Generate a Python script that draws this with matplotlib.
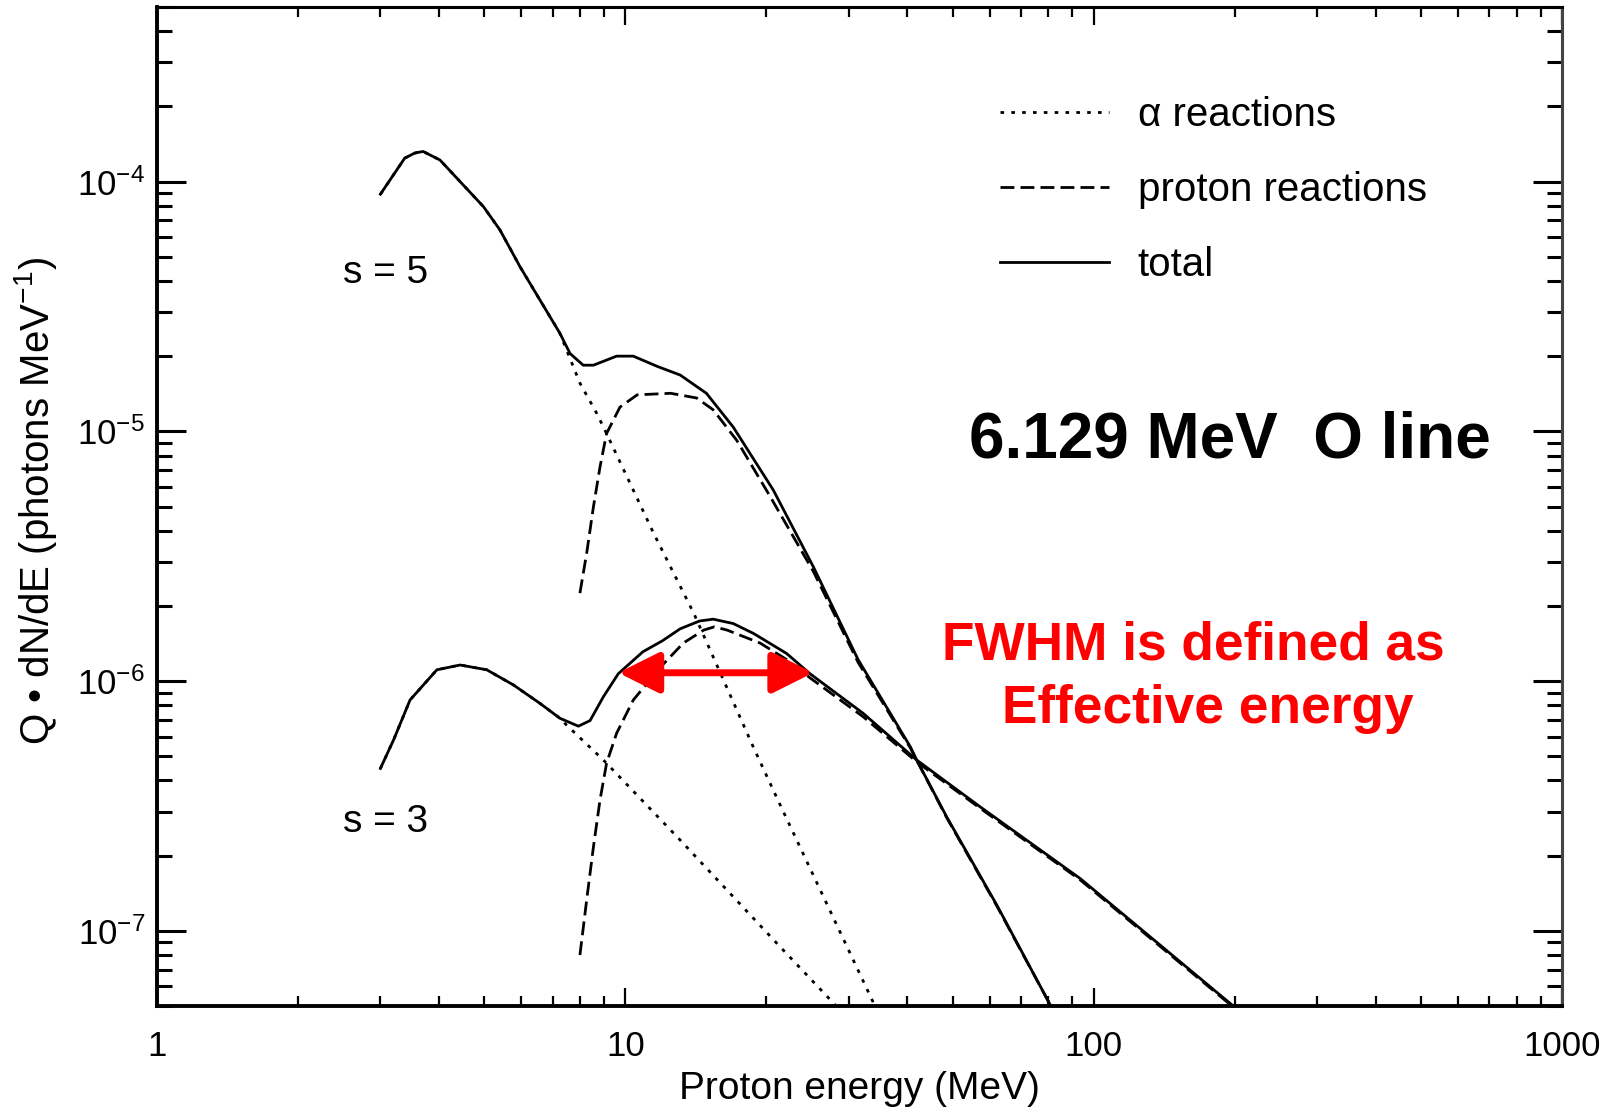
"""Gamma-ray line yield (6.129 MeV O line) vs proton energy, for s = 3 and s = 5
spectra: alpha-induced, proton-induced and total contributions."""

import matplotlib
matplotlib.use("Agg")
import matplotlib.pyplot as plt
from matplotlib.ticker import LogLocator, NullFormatter

plt.rcParams["font.family"] = ["Liberation Sans", "DejaVu Sans"]
plt.rcParams["mathtext.fontset"] = "custom"
plt.rcParams["mathtext.rm"] = "Liberation Sans"
plt.rcParams["mathtext.it"] = "Liberation Sans:italic"
plt.rcParams["mathtext.bf"] = "Liberation Sans:bold"

# --- data (energy in MeV, yield in photons/MeV) ---
s5_total_e = [3.0, 3.38, 3.55, 3.70, 4.02, 4.44, 4.98, 5.40, 5.96, 6.57, 7.25,
              7.62, 8.13, 8.55, 9.58, 10.4, 11.7, 13.1, 14.9, 17.0, 20.7,
              25.2, 31.4, 40.6, 41.9, 48.6, 62.1, 81.5]
s5_total = [8.9e-5, 1.24e-4, 1.30e-4, 1.32e-4, 1.22e-4, 9.99e-5, 7.93e-5,
            6.40e-5, 4.56e-5, 3.36e-5, 2.47e-5, 2.05e-5, 1.84e-5, 1.84e-5,
            2.0e-5, 2.0e-5, 1.82e-5, 1.68e-5, 1.42e-5, 1.04e-5, 5.82e-6,
            2.87e-6, 1.22e-6, 5.46e-7, 4.83e-7, 2.85e-7, 1.27e-7, 4.9e-8]

s5_alpha_e = [3.0, 3.38, 3.55, 3.70, 4.02, 4.44, 4.98, 5.40, 5.96, 6.57, 7.25,
              7.49, 8.0, 8.69, 9.12, 11.5, 14.0, 18.8, 21.4, 34.3]
s5_alpha = [8.9e-5, 1.24e-4, 1.30e-4, 1.32e-4, 1.22e-4, 9.99e-5, 7.93e-5,
            6.40e-5, 4.56e-5, 3.36e-5, 2.47e-5, 2.12e-5, 1.56e-5, 1.18e-5,
            9.8e-6, 3.9e-6, 1.87e-6, 5.4e-7, 3.2e-7, 4.9e-8]

s5_proton_e = [8.0, 8.27, 8.55, 8.83, 9.12, 9.74, 10.6, 12.5, 14.2, 15.4, 17.3,
               20.4, 25.2, 31.4, 40.6, 48.6, 62.1, 81.5]
s5_proton = [2.25e-6, 3.25e-6, 4.99e-6, 7.2e-6, 9.8e-6, 1.25e-5, 1.40e-5,
             1.42e-5, 1.36e-5, 1.22e-5, 9.2e-6, 5.47e-6, 2.75e-6, 1.19e-6,
             5.4e-7, 2.83e-7, 1.26e-7, 4.9e-8]

s3_total_e = [3.0, 3.20, 3.47, 3.96, 4.44, 5.06, 5.77, 6.57, 7.25, 7.94, 8.41,
              8.98, 9.66, 10.9, 12.0, 13.1, 14.4, 15.4, 17.0, 18.8, 22.1,
              24.8, 32.2, 41.9, 57.2, 93.6, 200.0]
s3_total = [4.47e-7, 5.81e-7, 8.4e-7, 1.11e-6, 1.16e-6, 1.11e-6, 9.65e-7,
            8.15e-7, 7.1e-7, 6.6e-7, 6.95e-7, 8.66e-7, 1.07e-6, 1.31e-6,
            1.45e-6, 1.62e-6, 1.74e-6, 1.77e-6, 1.70e-6, 1.55e-6, 1.29e-6,
            1.07e-6, 7.43e-7, 4.83e-7, 3.14e-7, 1.62e-7, 4.95e-8]

s3_alpha_e = [3.0, 3.20, 3.47, 3.96, 4.44, 5.06, 5.77, 6.57, 7.25, 7.49, 8.98,
              12.9, 21.4, 28.5]
s3_alpha = [4.47e-7, 5.81e-7, 8.4e-7, 1.11e-6, 1.16e-6, 1.11e-6, 9.65e-7,
            8.15e-7, 7.1e-7, 6.67e-7, 4.83e-7, 2.38e-7, 8.64e-8, 4.9e-8]

s3_proton_e = [8.0, 8.27, 8.55, 8.83, 9.12, 9.58, 10.4, 11.9, 13.3, 14.7, 15.5,
               16.5, 19.4, 22.1, 24.8, 32.2, 41.9, 57.2, 93.6, 200.0]
s3_proton = [8.0e-8, 1.33e-7, 2.17e-7, 3.34e-7, 4.69e-7, 6.18e-7, 8.4e-7,
             1.14e-6, 1.42e-6, 1.60e-6, 1.65e-6, 1.6e-6, 1.42e-6, 1.22e-6,
             1.03e-6, 7.2e-7, 4.75e-7, 3.1e-7, 1.60e-7, 4.9e-8]

# FWHM of the s = 3 total curve (red double arrow)
fwhm_lo, fwhm_hi = 9.66, 25.2
fwhm_level = 1.08e-6

x_ticks = [1, 10, 100, 1000]
x_ticklabels = ["1", "10", "100", "1000"]
y_ticks = [1e-7, 1e-6, 1e-5, 1e-4]
y_ticklabels = [r"$10^{-7}$", r"$10^{-6}$", r"$10^{-5}$", r"$10^{-4}$"]

LW = 2.0
DOT = (0, (1.3, 2.6))
DASH = (0, (5.0, 2.2))

fig = plt.figure(figsize=(16.18, 11.08), dpi=100)
ax = fig.add_axes([0.097, 0.092, 0.8684, 0.9017])

la, = ax.plot(s5_alpha_e, s5_alpha, color="black", lw=LW, linestyle=DOT,
              label="\u03b1 reactions")
lp, = ax.plot(s5_proton_e, s5_proton, color="black", lw=LW, linestyle=DASH,
              label="proton reactions")
lt, = ax.plot(s5_total_e, s5_total, color="black", lw=LW, label="total")
ax.plot(s3_alpha_e, s3_alpha, color="black", lw=LW, linestyle=DOT)
ax.plot(s3_proton_e, s3_proton, color="black", lw=LW, linestyle=DASH)
ax.plot(s3_total_e, s3_total, color="black", lw=LW)

ax.annotate("", xy=(fwhm_lo, fwhm_level), xytext=(fwhm_hi, fwhm_level),
            arrowprops=dict(arrowstyle="<|-|>,head_length=2.5,head_width=1.25",
                            mutation_scale=10, color="#ff0000", lw=5,
                            shrinkA=0, shrinkB=0))

ax.set_xscale("log")
ax.set_yscale("log")
ax.set_xlim(1, 1000)
ax.set_ylim(5e-8, 5e-4)

ax.set_xticks(x_ticks)
ax.set_xticklabels(x_ticklabels)
ax.set_yticks(y_ticks)
ax.set_yticklabels(y_ticklabels)
for axis in (ax.xaxis, ax.yaxis):
    axis.set_minor_locator(LogLocator(base=10, subs=range(2, 10), numticks=20))
    axis.set_minor_formatter(NullFormatter())

ax.tick_params(which="both", direction="in", top=True, right=True)
ax.tick_params(axis="x", which="major", length=13, width=1.6, pad=17, labelsize=25)
ax.tick_params(axis="x", which="minor", length=7.5, width=1.6)
ax.tick_params(axis="y", which="major", length=21, width=2.2, pad=8.5, labelsize=25)
ax.tick_params(axis="y", which="minor", length=11, width=2.2)

for side in ("left", "bottom"):
    ax.spines[side].set_linewidth(2.8)
for side in ("top", "right"):
    ax.spines[side].set_linewidth(2.2)
ax.spines["right"].set_color("#444444")

ax.set_xlabel("Proton energy (MeV)", fontsize=28)
ax.set_ylabel("Q \u2022 dN/dE (photons MeV$^{-1}$)", fontsize=29)
ax.xaxis.set_label_coords(0.5, -0.065)
ax.yaxis.set_label_coords(-0.07, 0.505)

ax.legend(handles=[la, lp, lt], loc="upper left", bbox_to_anchor=(0.600, 0.911),
          frameon=False, fontsize=29, handlelength=2.7, handletextpad=0.72,
          labelspacing=0.92, borderpad=0, borderaxespad=0)

ax.text(0.1324, 0.7237, "s = 5", transform=ax.transAxes, fontsize=28,
        ha="left", va="baseline")
ax.text(0.1324, 0.174, "s = 3", transform=ax.transAxes, fontsize=28,
        ha="left", va="baseline")
ax.text(0.578, 0.5495, "6.129 MeV  O line", transform=ax.transAxes,
        fontsize=46, fontweight="bold", ha="left", va="baseline")
ax.text(0.7376, 0.347, "FWHM is defined as", transform=ax.transAxes,
        fontsize=38.3, fontweight="bold", color="#ff0000", ha="center", va="baseline")
ax.text(0.748, 0.283, "Effective energy", transform=ax.transAxes,
        fontsize=38.3, fontweight="bold", color="#ff0000", ha="center", va="baseline")

fig.savefig("out.png", dpi=100)
